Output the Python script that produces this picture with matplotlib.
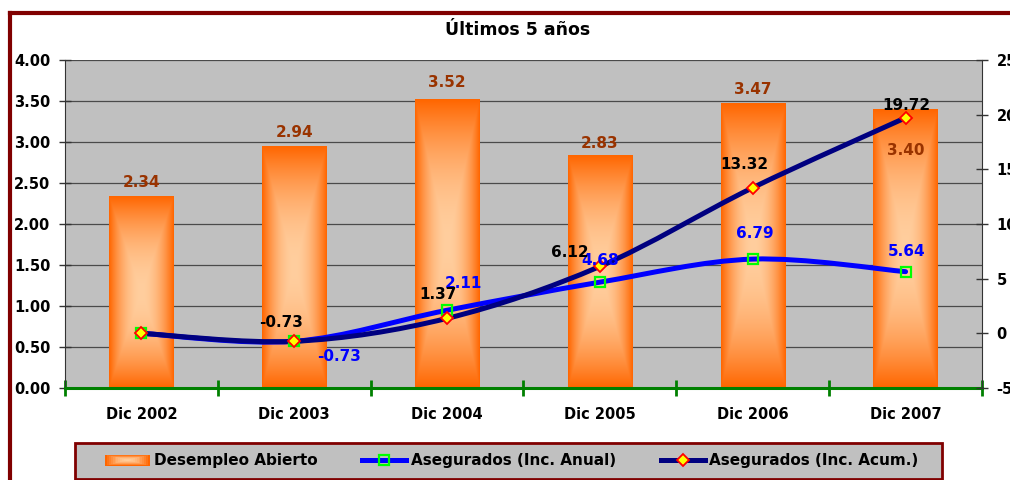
import numpy as np
import matplotlib
matplotlib.use('Agg')
import matplotlib.pyplot as plt
from matplotlib.path import Path
from matplotlib.patches import PathPatch, Rectangle
from matplotlib.lines import Line2D
from matplotlib.legend_handler import HandlerBase
from matplotlib.ticker import FormatStrFormatter

# data
categories = ['Dic 2002', 'Dic 2003', 'Dic 2004', 'Dic 2005', 'Dic 2006', 'Dic 2007']
desempleo = [2.34, 2.94, 3.52, 2.83, 3.47, 3.40]
inc_anual = [0.0, -0.73, 2.11, 4.68, 6.79, 5.64]
inc_acum = [0.0, -0.73, 1.37, 6.12, 13.32, 19.72]
show_line_labels = [False, True, True, True, True, True]

# label offsets in pixels (dx, dy)
bar_lbl_off = [(0, 14), (0, 14), (0, 17), (0, 12), (0, 14), (0, -41)]
anual_lbl_off = [(0, 0), (45, -15), (16, 27), (0, 22), (2, 26), (1, 20)]
acum_lbl_off = [(0, 0), (-13, 19), (-9, 24), (-30, 14), (-8, 23), (1, 12)]

plt.rcParams['font.family'] = ['DejaVu Sans']
plt.rcParams['font.weight'] = 'bold'
plt.rcParams['font.size'] = 10.5
plt.rcParams['axes.unicode_minus'] = False

LIGHT = np.array([255, 206, 158]) / 255
ORANGE = np.array([255, 102, 0]) / 255


def blend(t):
    return LIGHT + (ORANGE - LIGHT) * t


def smooth_path(xs, ys):
    # excel-like smoothed line, bezier through the data points
    pts = np.column_stack([xs, ys]).astype(float)
    n = len(pts)
    verts = [pts[0]]
    codes = [Path.MOVETO]
    for i in range(n - 1):
        p0 = pts[i - 1] if i > 0 else pts[i]
        p1 = pts[i]
        p2 = pts[i + 1]
        p3 = pts[i + 2] if i + 2 < n else pts[i + 1]
        verts += [p1 + (p2 - p0) / 6, p2 - (p3 - p1) / 6, p2]
        codes += [Path.CURVE4] * 3
    return Path(verts, codes)


class GradHandler(HandlerBase):
    def create_artists(self, legend, orig_handle, xdescent, ydescent,
                       width, height, fontsize, trans):
        arts = []
        n = 12
        x0, y0 = -xdescent, -ydescent
        for k in range(n):
            f = k / n
            r = Rectangle((x0 + f * width / 2, y0 + f * height / 2),
                          width * (1 - f), height * (1 - f),
                          facecolor=blend((1 - f) ** 1.8), edgecolor='none',
                          transform=trans)
            arts.append(r)
        return arts


fig = plt.figure(figsize=(10.1, 4.8), dpi=100)
W, H = 1010, 480
ax = fig.add_axes([65 / W, 1 - 388 / H, (982 - 65) / W, 328 / H])
ax.set_facecolor('#C0C0C0')

x = np.arange(len(categories))
bars = ax.bar(x, desempleo, width=0.42, color='none', zorder=2)

# rectangular "from centre" gradient for the bars
ny, nx = 200, 100
U, V = np.meshgrid(np.linspace(-1, 1, nx), np.linspace(-1, 1, ny))
t = np.maximum(np.abs(U), np.abs(V)) ** 2.0
grad = blend(t[..., None])
for b in bars:
    ax.imshow(grad, extent=[b.get_x(), b.get_x() + b.get_width(), 0, b.get_height()],
              aspect='auto', zorder=2, interpolation='bilinear')

for xi, v, (dx, dy) in zip(x, desempleo, bar_lbl_off):
    ax.annotate(f'{v:.2f}', (xi, v), xytext=(dx, dy), textcoords='offset pixels',
                ha='center', va='center', color='#993300', fontsize=11, zorder=6)

ax.set_xlim(-0.5, len(categories) - 0.5)
ax.set_ylim(0, 4)
ax.set_yticks(np.arange(0, 4.01, 0.5))
ax.yaxis.set_major_formatter(FormatStrFormatter('%.2f'))
ax.grid(axis='y', color='#4a4a4a', lw=0.9)
ax.set_axisbelow(True)

ax.set_xticks(np.arange(-0.5, len(categories), 1))
ax.set_xticklabels([])
ax.set_xticks(x, minor=True)
ax.set_xticklabels(categories, minor=True)
ax.tick_params(axis='x', which='major', direction='inout', length=11, width=2, color='#008000')
ax.tick_params(axis='x', which='minor', length=0, pad=14)
ax.tick_params(axis='y', direction='inout', length=9, width=1, color='#333333', pad=6)

for s in ['top', 'right']:
    ax.spines[s].set_visible(False)
ax.spines['bottom'].set_color('#008000')
ax.spines['bottom'].set_linewidth(2.2)
ax.spines['bottom'].set_zorder(5)
ax.spines['left'].set_color('#333333')

ax2 = ax.twinx()
ax2.set_ylim(-5, 25)
ax2.set_yticks(np.arange(-5, 26, 5))
ax2.tick_params(axis='y', direction='inout', length=9, width=1, color='#333333', pad=6)
for s in ['top', 'left', 'bottom']:
    ax2.spines[s].set_visible(False)
ax2.spines['right'].set_color('#333333')

ax2.add_patch(PathPatch(smooth_path(x, inc_anual), facecolor='none', edgecolor='#0000FF',
                        lw=3.6, zorder=3, capstyle='round', joinstyle='round'))
ax2.add_patch(PathPatch(smooth_path(x, inc_acum), facecolor='none', edgecolor='#000080',
                        lw=3.6, zorder=4, capstyle='round', joinstyle='round'))
ax2.plot(x, inc_anual, ls='none', marker='s', ms=6.5, mfc='none', mec='#00FF00', mew=1.6, zorder=5)
ax2.plot(x, inc_acum, ls='none', marker='D', ms=6, mfc='#FFFF00', mec='#FF0000', mew=1.3, zorder=5)

for xi, v, show, (dx, dy) in zip(x, inc_anual, show_line_labels, anual_lbl_off):
    if show:
        ax2.annotate(f'{v:.2f}', (xi, v), xytext=(dx, dy), textcoords='offset pixels',
                     ha='center', va='center', color='#0000FF', fontsize=11, zorder=6)
for xi, v, show, (dx, dy) in zip(x, inc_acum, show_line_labels, acum_lbl_off):
    if show:
        ax2.annotate(f'{v:.2f}', (xi, v), xytext=(dx, dy), textcoords='offset pixels',
                     ha='center', va='center', color='black', fontsize=11, zorder=7)

fig.text(518 / W, 1 - 30 / H, 'Últimos 5 años', ha='center', va='center', fontsize=12.5)

# legend box drawn by hand, legend itself without frame
fig.add_artist(Rectangle((75 / W, 1 - 479 / H), (942 - 75) / W, 36 / H,
                         transform=fig.transFigure, facecolor='#C0C0C0',
                         edgecolor='#800000', lw=2, zorder=1))
h_bar = Rectangle((0, 0), 1, 1)
h_anual = Line2D([], [], color='#0000FF', lw=3.6, marker='s', ms=6.5, mfc='none',
                 mec='#00FF00', mew=1.6)
h_acum = Line2D([], [], color='#000080', lw=3.6, marker='D', ms=6, mfc='#FFFF00',
                mec='#FF0000', mew=1.3)
leg = fig.legend([h_bar, h_anual, h_acum],
                 ['Desempleo Abierto', 'Asegurados (Inc. Anual)', 'Asegurados (Inc. Acum.)'],
                 handler_map={Rectangle: GradHandler()},
                 loc='center', bbox_to_anchor=(512 / W, 1 - 461 / H), ncol=3,
                 frameon=False, fontsize=11, handlelength=2.9, handletextpad=0.3,
                 columnspacing=2.9, borderpad=0.3)
leg.set_zorder(2)

# dark red chart border
fig.add_artist(Line2D([10 / W, 10 / W], [0, 1 - 13 / H], transform=fig.transFigure,
                      color='#800000', lw=3))
fig.add_artist(Line2D([10 / W, 1], [1 - 13 / H, 1 - 13 / H], transform=fig.transFigure,
                      color='#800000', lw=3))

fig.savefig('out.png', dpi=100)
